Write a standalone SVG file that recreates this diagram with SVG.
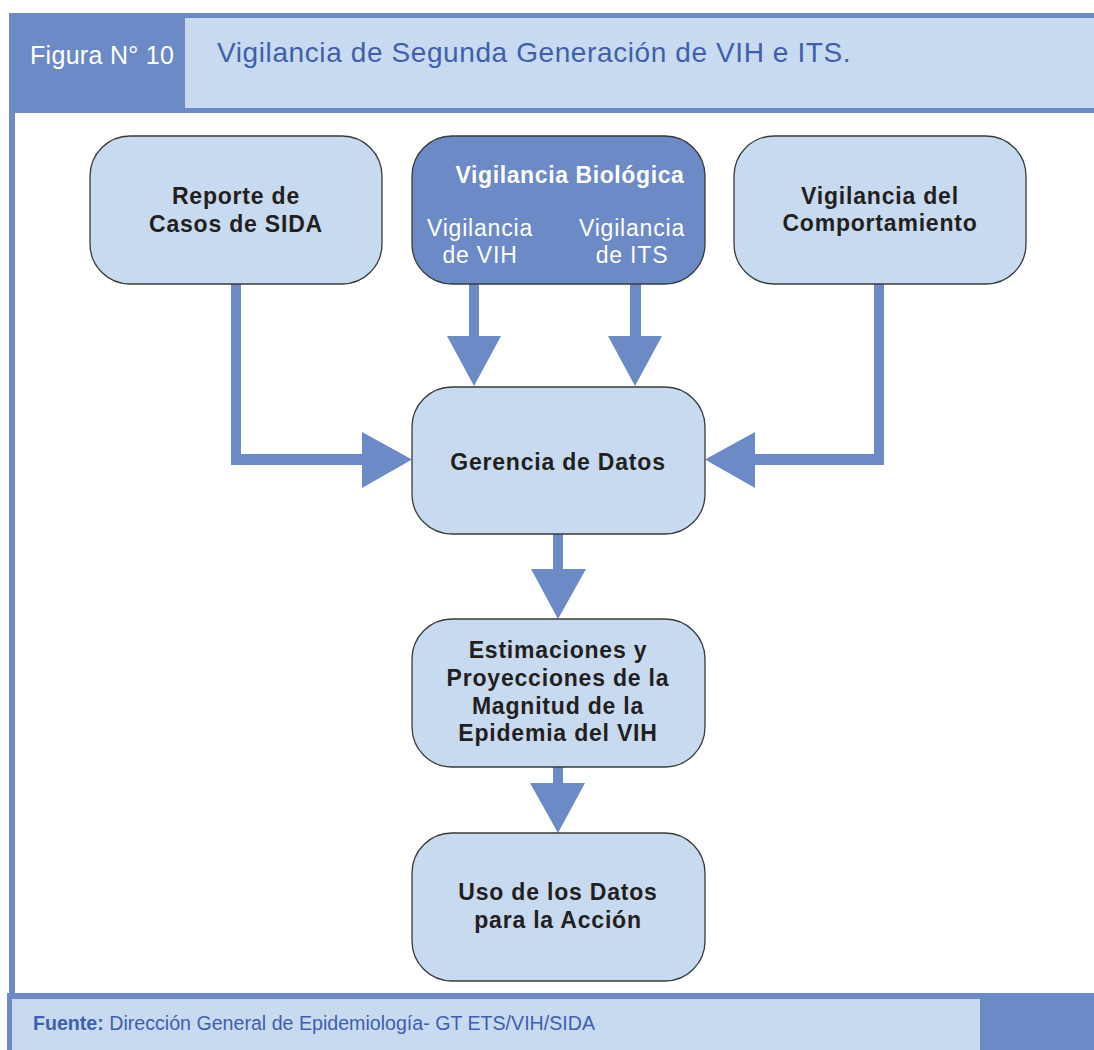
<svg xmlns="http://www.w3.org/2000/svg" width="1094" height="1050" viewBox="0 0 1094 1050">
<style>
.frame{fill:#6b8ac6}
.light{fill:#c8daef}
.node{fill:#c8daef;stroke:#3a3a3a;stroke-width:1.3}
.dark{fill:#6b8ac6;stroke:#3a3a3a;stroke-width:1.3}
.lbl{font-family:"Liberation Sans",Arial,sans-serif;font-weight:bold;font-size:23px;letter-spacing:0.8px;fill:#231f20;text-anchor:middle}
.wb{font-family:"Liberation Sans",Arial,sans-serif;font-weight:bold;font-size:23px;letter-spacing:0.6px;fill:#ffffff;text-anchor:middle}
.wr{font-family:"Liberation Sans",Arial,sans-serif;font-size:23px;letter-spacing:0.8px;fill:#ffffff;text-anchor:middle}
.conn{fill:#6b8ac6}
</style>
<rect width="1094" height="1050" fill="#ffffff"/>
<g id="header">
<rect class="frame" x="9" y="13" width="1085" height="100"/>
<rect class="light" x="185" y="18" width="909" height="90"/>
<rect class="frame" x="9" y="113" width="6" height="885"/>
<text x="30" y="64" font-family="Liberation Sans,Arial,sans-serif" font-size="25" letter-spacing="0.3" fill="#ffffff">Figura N° 10</text>
<text x="217" y="62" font-family="Liberation Sans,Arial,sans-serif" font-size="28" letter-spacing="0.6" fill="#3f5fae">Vigilancia de Segunda Generación de VIH e ITS.</text>
</g>
<g id="footer">
<rect class="frame" x="7" y="993" width="1087" height="57"/>
<rect class="light" x="12" y="999" width="968" height="51"/>
<text x="33" y="1030" font-family="Liberation Sans,Arial,sans-serif" font-size="20" fill="#3f5fae" textLength="562" lengthAdjust="spacingAndGlyphs"><tspan font-weight="bold">Fuente:</tspan> Dirección General de Epidemiología- GT ETS/VIH/SIDA</text>
</g>
<g id="connectors">
<path class="conn" d="M231,284 H241 V454 H362 V432 L412,459.5 L362,488 V465 H231 Z"/>
<path class="conn" d="M884,284 H874 V454 H755 V432 L705,459.5 L755,488 V465 H884 Z"/>
<path class="conn" d="M469,284 H479 V336 H501 L474,386 L447,336 H469 Z"/>
<path class="conn" d="M630,284 H641 V336 H662 L635,386 L608,336 H630 Z"/>
<path class="conn" d="M553,534 H563 V569 H586 L558,619 L531,569 H553 Z"/>
<path class="conn" d="M553,767 H563 V783 H585 L558,833 L530,783 H553 Z"/>
</g>
<g id="node-reporte">
<rect class="node" x="90" y="136" width="292" height="148" rx="40"/>
<text class="lbl" x="236" y="204">Reporte de</text>
<text class="lbl" x="236" y="232">Casos de SIDA</text>
</g>
<g id="node-biologica">
<rect class="dark" x="412" y="136" width="293" height="148" rx="40"/>
<text class="wb" x="570" y="183">Vigilancia Biológica</text>
<text class="wr" x="480" y="236">Vigilancia</text>
<text class="wr" x="480" y="263">de VIH</text>
<text class="wr" x="632" y="236">Vigilancia</text>
<text class="wr" x="632" y="263">de ITS</text>
</g>
<g id="node-comportamiento">
<rect class="node" x="734" y="136" width="292" height="148" rx="40"/>
<text class="lbl" x="880" y="204">Vigilancia del</text>
<text class="lbl" x="880" y="231">Comportamiento</text>
</g>
<g id="node-gerencia">
<rect class="node" x="412" y="387" width="293" height="147" rx="40"/>
<text class="lbl" x="558" y="470">Gerencia de Datos</text>
</g>
<g id="node-estimaciones">
<rect class="node" x="412" y="619" width="293" height="148" rx="40"/>
<text class="lbl" x="558" y="658">Estimaciones y</text>
<text class="lbl" x="558" y="686">Proyecciones de la</text>
<text class="lbl" x="558" y="714">Magnitud de la</text>
<text class="lbl" x="558" y="741">Epidemia del VIH</text>
</g>
<g id="node-uso">
<rect class="node" x="412" y="833" width="293" height="148" rx="40"/>
<text class="lbl" x="558" y="900">Uso de los Datos</text>
<text class="lbl" x="558" y="928">para la Acción</text>
</g>
</svg>
